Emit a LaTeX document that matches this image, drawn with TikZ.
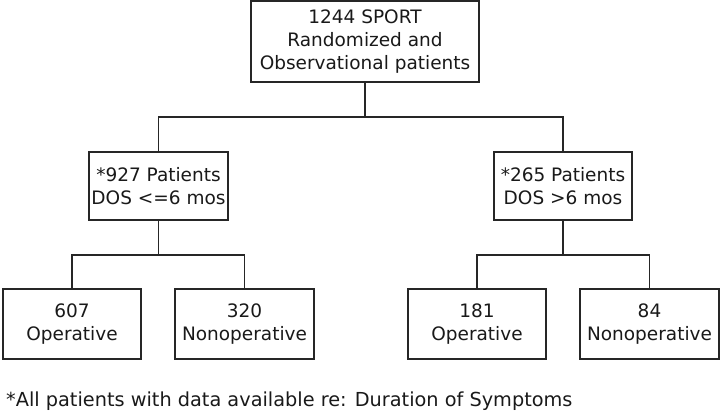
\documentclass[tikz,border=0pt]{standalone}
\usepackage{fontspec}
\setmainfont{DejaVu Sans}
\begin{document}
\begin{tikzpicture}[x=1pt,y=-1pt,
  box/.style={draw=black!85, line width=1.3pt, inner sep=0pt, align=center, font=\fontsize{18.5}{23}\selectfont, text=black!90},
  conn/.style={draw=black!85, line width=1.3pt}]
\useasboundingbox (0,0) rectangle (720,414);
\node[box, minimum width=228pt, minimum height=81pt] (top) at (365,41.5) {1244 SPORT\\Randomized and\\Observational patients};
\node[box, minimum width=139pt, minimum height=68pt] (ml) at (158.5,186) {*927 Patients\\DOS <=6 mos};
\node[box, minimum width=138pt, minimum height=68pt] (mr) at (563,186) {*265 Patients\\DOS >6 mos};
\node[box, minimum width=138pt, minimum height=70pt] (b1) at (72,324) {607\\Operative};
\node[box, minimum width=139pt, minimum height=70pt] (b2) at (244.5,324) {320\\Nonoperative};
\node[box, minimum width=138pt, minimum height=70pt] (b3) at (477,324) {181\\Operative};
\node[box, minimum width=139pt, minimum height=70pt] (b4) at (649.5,324) {84\\Nonoperative};
\node[anchor=west, font=\fontsize{19.3}{20}\selectfont, text=black!90, inner sep=0pt] (foot) at (6,401) {*All patients with data available re: Duration of Symptoms};
\coordinate (j1) at (361,117);
\coordinate (j2) at (158,255);
\coordinate (j3) at (563,255);
\draw[conn] (top.south) -- (top.south |- j1);
\draw[conn] (ml.north) |- (mr.north |- j1) -- (mr.north);
\draw[conn] (ml.south) -- (ml.south |- j2);
\draw[conn] (b1.north) |- (b2.north |- j2) -- (b2.north);
\draw[conn] (mr.south) -- (mr.south |- j3);
\draw[conn] (b3.north) |- (b4.north |- j3) -- (b4.north);
\end{tikzpicture}
\end{document}
